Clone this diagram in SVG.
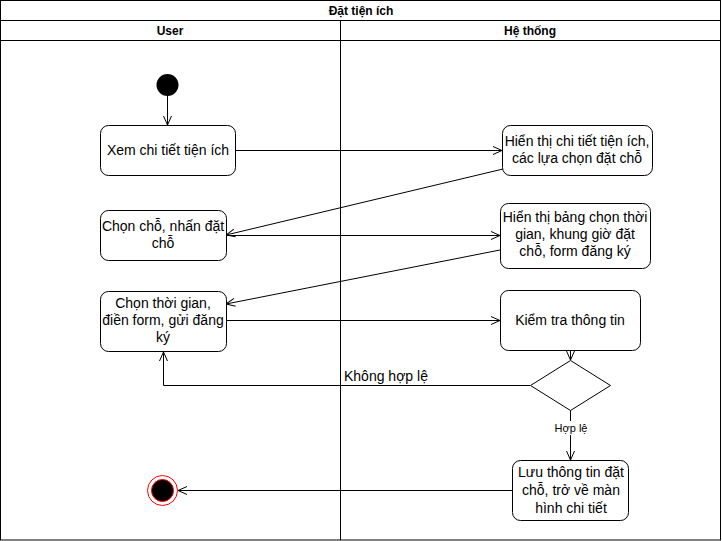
<svg xmlns="http://www.w3.org/2000/svg" width="722" height="541" viewBox="0 0 722 541">
<defs>
<style>
.lane{fill:none;stroke:#000;stroke-width:1}
.node{fill:#fff;stroke:#000;stroke-width:1}
.t{font-family:"Liberation Sans",Arial,sans-serif;font-size:14px;fill:#000;text-anchor:middle}
.h{font-family:"Liberation Sans",Arial,sans-serif;font-size:12px;font-weight:bold;fill:#000;text-anchor:middle}
.s{font-family:"Liberation Sans",Arial,sans-serif;font-size:11px;fill:#000;text-anchor:middle}
.c{fill:none;stroke:#000;stroke-width:1;marker-end:url(#arr)}
</style>
<marker id="arr" viewBox="0 0 10 10" refX="10" refY="5" markerWidth="10" markerHeight="10" markerUnits="userSpaceOnUse" orient="auto">
<path d="M1,1 L10,5 L1,9" fill="none" stroke="#000" stroke-width="1"/>
</marker>
</defs>
<rect x="0" y="0" width="722" height="541" fill="#fff"/>
<g id="pool">
<rect class="lane" x="0.5" y="0.5" width="720" height="539.5"/>
<line class="lane" x1="0.5" y1="20.5" x2="720.5" y2="20.5"/>
<line class="lane" x1="0.5" y1="40.5" x2="720.5" y2="40.5"/>
<line class="lane" x1="340.5" y1="20.5" x2="340.5" y2="540"/>
<text class="h" x="361" y="15">Đặt tiện ích</text>
<text class="h" x="170" y="35">User</text>
<text class="h" x="530" y="35">Hệ thống</text>
</g>
<g id="connectors">
<line class="c" x1="167.5" y1="96" x2="167.5" y2="125"/>
<line class="c" x1="236" y1="150.5" x2="502" y2="150.5"/>
<line class="c" x1="503" y1="169" x2="226" y2="235"/>
<line class="c" x1="226" y1="235.5" x2="500" y2="235.5"/>
<line class="c" x1="500" y1="250" x2="226" y2="304"/>
<line class="c" x1="227" y1="320.5" x2="500" y2="320.5"/>
<line class="c" x1="570.5" y1="351" x2="570.5" y2="360"/>
<polyline class="c" points="530,385.5 163.5,385.5 163.5,352"/>
<line class="c" x1="570.5" y1="410" x2="570.5" y2="460"/>
<rect x="553" y="421" width="36" height="14" fill="#fff"/>
<text class="s" x="571" y="432">Hợp lệ</text>
<line class="c" x1="512" y1="490.5" x2="178" y2="490.5"/>
<text class="t" x="344" y="381" style="text-anchor:start">Không hợp lệ</text>
</g>
<g id="start"><circle cx="167.5" cy="85" r="11" fill="#000"/></g>
<g id="n1"><rect class="node" x="100.5" y="125.5" width="135" height="50" rx="8"/>
<text class="t" x="168" y="155">Xem chi tiết tiện ích</text></g>
<g id="n2"><rect class="node" x="502.5" y="125.5" width="150" height="50" rx="8"/>
<text class="t" x="577" y="146">Hiển thị chi tiết tiện ích,</text>
<text class="t" x="577" y="163">các lựa chọn đặt chỗ</text></g>
<g id="n3"><rect class="node" x="100.5" y="210.5" width="126" height="50" rx="8"/>
<text class="t" x="163" y="231">Chọn chỗ, nhấn đặt</text>
<text class="t" x="163" y="248">chỗ</text></g>
<g id="n4"><rect class="node" x="500.5" y="203.5" width="150" height="65" rx="8"/>
<text class="t" x="575" y="222">Hiển thị bảng chọn thời</text>
<text class="t" x="575" y="239">gian, khung giờ đặt</text>
<text class="t" x="575" y="256">chỗ, form đăng ký</text></g>
<g id="n5"><rect class="node" x="100.5" y="291.5" width="126" height="60" rx="8"/>
<text class="t" x="163" y="308">Chọn thời gian,</text>
<text class="t" x="163" y="325">điền form, gửi đăng</text>
<text class="t" x="163" y="342">ký</text></g>
<g id="n6"><rect class="node" x="500.5" y="290.5" width="140" height="60" rx="8"/>
<text class="t" x="570" y="325">Kiểm tra thông tin</text></g>
<g id="decision"><polygon class="node" points="570.5,360.5 610.5,385.5 570.5,410.5 530.5,385.5"/></g>
<g id="n7"><rect class="node" x="512.5" y="460.5" width="116" height="60" rx="8"/>
<text class="t" x="571" y="477">Lưu thông tin đặt</text>
<text class="t" x="571" y="495">chỗ, trở về màn</text>
<text class="t" x="571" y="513">hình chi tiết</text></g>
<g id="end"><circle cx="162.5" cy="490.5" r="15" fill="#fff" stroke="#ff0000" stroke-width="1"/>
<circle cx="162.5" cy="490.5" r="11" fill="#000" stroke="#ff0000" stroke-width="1"/></g>
</svg>
